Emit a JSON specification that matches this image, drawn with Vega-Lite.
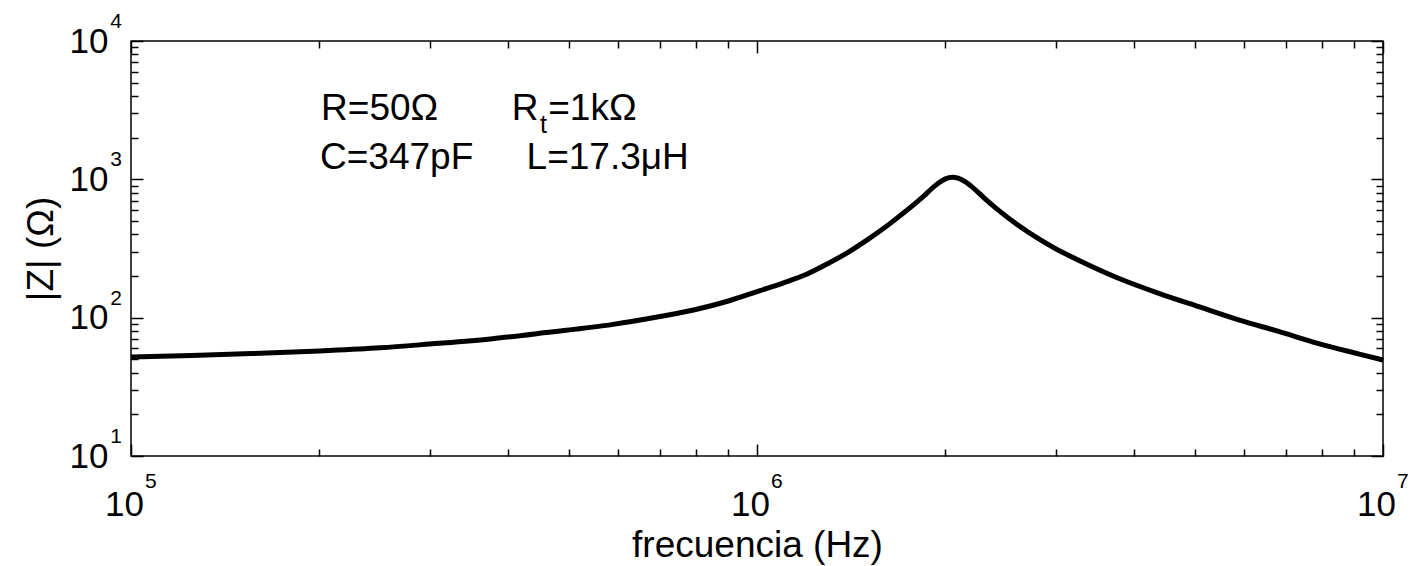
{
  "$schema": "https://vega.github.io/schema/vega-lite/v6.json",
  "width": 1252,
  "height": 415,
  "autosize": {"type": "none"},
  "padding": {"left": 131, "top": 41, "right": 32, "bottom": 110},
  "background": "white",
  "config": {
    "font": "Liberation Sans",
    "view": {"stroke": "black", "strokeWidth": 1.5},
    "axis": {"grid": false, "domain": false, "tickColor": "black", "tickWidth": 1.5, "labelColor": "black", "titleColor": "black", "labelFont": "Liberation Sans", "titleFont": "Liberation Sans", "titleFontWeight": "normal", "labelFlush": false, "labelOverlap": false, "labelBound": false},
    "text": {"font": "Liberation Sans", "color": "black"}
  },
  "datasets": {
    "curve": [
      {"f": 100000, "z": 52}, {"f": 125000, "z": 53.3}, {"f": 156000, "z": 55}, {"f": 200000, "z": 57.5},
      {"f": 250000, "z": 60.5}, {"f": 300000, "z": 64.5}, {"f": 378000, "z": 70.5}, {"f": 460000, "z": 78},
      {"f": 589000, "z": 89.4}, {"f": 700000, "z": 102}, {"f": 792000, "z": 113.5}, {"f": 900000, "z": 132},
      {"f": 1011000, "z": 157}, {"f": 1100000, "z": 178}, {"f": 1200000, "z": 206}, {"f": 1300000, "z": 247},
      {"f": 1400000, "z": 298}, {"f": 1500000, "z": 365}, {"f": 1600000, "z": 448}, {"f": 1700000, "z": 555},
      {"f": 1800000, "z": 685}, {"f": 1850000, "z": 762}, {"f": 1900000, "z": 855}, {"f": 1950000, "z": 942},
      {"f": 2000000, "z": 1008}, {"f": 2050000, "z": 1035}, {"f": 2100000, "z": 1015}, {"f": 2150000, "z": 962},
      {"f": 2200000, "z": 890}, {"f": 2300000, "z": 742}, {"f": 2438000, "z": 592}, {"f": 2600000, "z": 473},
      {"f": 2824000, "z": 369}, {"f": 3000000, "z": 315}, {"f": 3270000, "z": 259}, {"f": 3787000, "z": 192},
      {"f": 4385000, "z": 150}, {"f": 5080000, "z": 120}, {"f": 5880000, "z": 96.5}, {"f": 6810000, "z": 79.5},
      {"f": 7890000, "z": 65}, {"f": 9130000, "z": 54.8}, {"f": 10000000, "z": 49.4}
    ],
    "xexp": [{"f": 100000, "e": "5"}, {"f": 1000000, "e": "6"}, {"f": 10000000, "e": "7"}],
    "yexp": [{"z": 10, "e": "1"}, {"z": 100, "e": "2"}, {"z": 1000, "e": "3"}, {"z": 10000, "e": "4"}]
  },
  "layer": [
    {
      "data": {"name": "curve"},
      "mark": {"type": "line", "color": "black", "strokeWidth": 5, "interpolate": "monotone"},
      "encoding": {
        "x": {"field": "f", "type": "quantitative", "scale": {"type": "log", "domain": [100000, 10000000], "nice": false},
          "axis": {"orient": "bottom", "title": "frecuencia (Hz)",
            "values": [100000, 200000, 300000, 400000, 500000, 600000, 700000, 800000, 900000, 1000000, 2000000, 3000000, 4000000, 5000000, 6000000, 7000000, 8000000, 9000000, 10000000],
            "tickSize": {"condition": {"test": "abs(log(datum.value)/LN10 - round(log(datum.value)/LN10)) < 0.001", "value": -12}, "value": -7},
            "labelExpr": "abs(log(datum.value)/LN10 - round(log(datum.value)/LN10)) < 0.001 ? '10' : ''",
            "labelFontSize": 35, "labelAlign": "center", "labelBaseline": "alphabetic", "labelPadding": 71, "labelOffset": -7,
            "titleFontSize": 37, "titleX": 626, "titleY": 100, "titleAlign": "center", "titleBaseline": "alphabetic"}},
        "y": {"field": "z", "type": "quantitative", "scale": {"type": "log", "domain": [10, 10000], "nice": false},
          "axis": {"orient": "left", "title": "|Z| (Ω)",
            "values": [10, 20, 30, 40, 50, 60, 70, 80, 90, 100, 200, 300, 400, 500, 600, 700, 800, 900, 1000, 2000, 3000, 4000, 5000, 6000, 7000, 8000, 9000, 10000],
            "tickSize": {"condition": {"test": "abs(log(datum.value)/LN10 - round(log(datum.value)/LN10)) < 0.001", "value": -12}, "value": -7},
            "labelExpr": "abs(log(datum.value)/LN10 - round(log(datum.value)/LN10)) < 0.001 ? '10' : ''",
            "labelFontSize": 35, "labelAlign": "right", "labelBaseline": "middle", "labelPadding": 35,
            "titleFontSize": 37, "titleAngle": 270, "titleX": -79, "titleY": 207.5, "titleAlign": "center", "titleBaseline": "alphabetic"}}
      }
    },
    {
      "data": {"name": "xexp"},
      "mark": {"type": "text", "align": "left", "baseline": "alphabetic", "dx": 14, "dy": 32, "fontSize": 21},
      "encoding": {
        "x": {"field": "f", "type": "quantitative", "scale": {"type": "log", "domain": [100000, 10000000], "nice": false},
          "axis": {"orient": "top", "title": null, "labels": false,
            "values": [100000, 200000, 300000, 400000, 500000, 600000, 700000, 800000, 900000, 1000000, 2000000, 3000000, 4000000, 5000000, 6000000, 7000000, 8000000, 9000000, 10000000],
            "tickSize": {"condition": {"test": "abs(log(datum.value)/LN10 - round(log(datum.value)/LN10)) < 0.001", "value": -12}, "value": -7}}},
        "y": {"datum": 10, "type": "quantitative", "scale": {"type": "log", "domain": [10, 10000], "nice": false}, "axis": null},
        "text": {"field": "e", "type": "nominal"}
      }
    },
    {
      "data": {"name": "yexp"},
      "mark": {"type": "text", "align": "right", "baseline": "alphabetic", "dx": -9, "dy": -13, "fontSize": 21},
      "encoding": {
        "x": {"datum": 100000, "type": "quantitative", "scale": {"type": "log", "domain": [100000, 10000000], "nice": false}, "axis": null},
        "y": {"field": "z", "type": "quantitative", "scale": {"type": "log", "domain": [10, 10000], "nice": false},
          "axis": {"orient": "right", "title": null, "labels": false,
            "values": [10, 20, 30, 40, 50, 60, 70, 80, 90, 100, 200, 300, 400, 500, 600, 700, 800, 900, 1000, 2000, 3000, 4000, 5000, 6000, 7000, 8000, 9000, 10000],
            "tickSize": {"condition": {"test": "abs(log(datum.value)/LN10 - round(log(datum.value)/LN10)) < 0.001", "value": -12}, "value": -7}}},
        "text": {"field": "e", "type": "nominal"}
      }
    },
    {
      "data": {"values": [{}]},
      "mark": {"type": "text", "align": "left", "baseline": "alphabetic", "fontSize": 37},
      "encoding": {
        "x": {"datum": 201200, "type": "quantitative", "axis": null},
        "y": {"datum": 2677, "type": "quantitative", "axis": null},
        "text": {"value": "R=50Ω"}
      }
    },
    {
      "data": {"values": [{}]},
      "mark": {"type": "text", "align": "left", "baseline": "alphabetic", "fontSize": 37},
      "encoding": {
        "x": {"datum": 405800, "type": "quantitative", "axis": null},
        "y": {"datum": 2677, "type": "quantitative", "axis": null},
        "text": {"value": "R"}
      }
    },
    {
      "data": {"values": [{}]},
      "mark": {"type": "text", "align": "left", "baseline": "alphabetic", "fontSize": 25},
      "encoding": {
        "x": {"datum": 450200, "type": "quantitative", "axis": null},
        "y": {"datum": 2157, "type": "quantitative", "axis": null},
        "text": {"value": "t"}
      }
    },
    {
      "data": {"values": [{}]},
      "mark": {"type": "text", "align": "left", "baseline": "alphabetic", "fontSize": 37},
      "encoding": {
        "x": {"datum": 464000, "type": "quantitative", "axis": null},
        "y": {"datum": 2677, "type": "quantitative", "axis": null},
        "text": {"value": "=1kΩ"}
      }
    },
    {
      "data": {"values": [{}]},
      "mark": {"type": "text", "align": "left", "baseline": "alphabetic", "fontSize": 37},
      "encoding": {
        "x": {"datum": 200400, "type": "quantitative", "axis": null},
        "y": {"datum": 1179, "type": "quantitative", "axis": null},
        "text": {"value": "C=347pF"}
      }
    },
    {
      "data": {"values": [{}]},
      "mark": {"type": "text", "align": "left", "baseline": "alphabetic", "fontSize": 37},
      "encoding": {
        "x": {"datum": 428500, "type": "quantitative", "axis": null},
        "y": {"datum": 1179, "type": "quantitative", "axis": null},
        "text": {"value": "L=17.3μH"}
      }
    }
  ],
  "resolve": {"axis": {"x": "independent", "y": "independent"}}
}
